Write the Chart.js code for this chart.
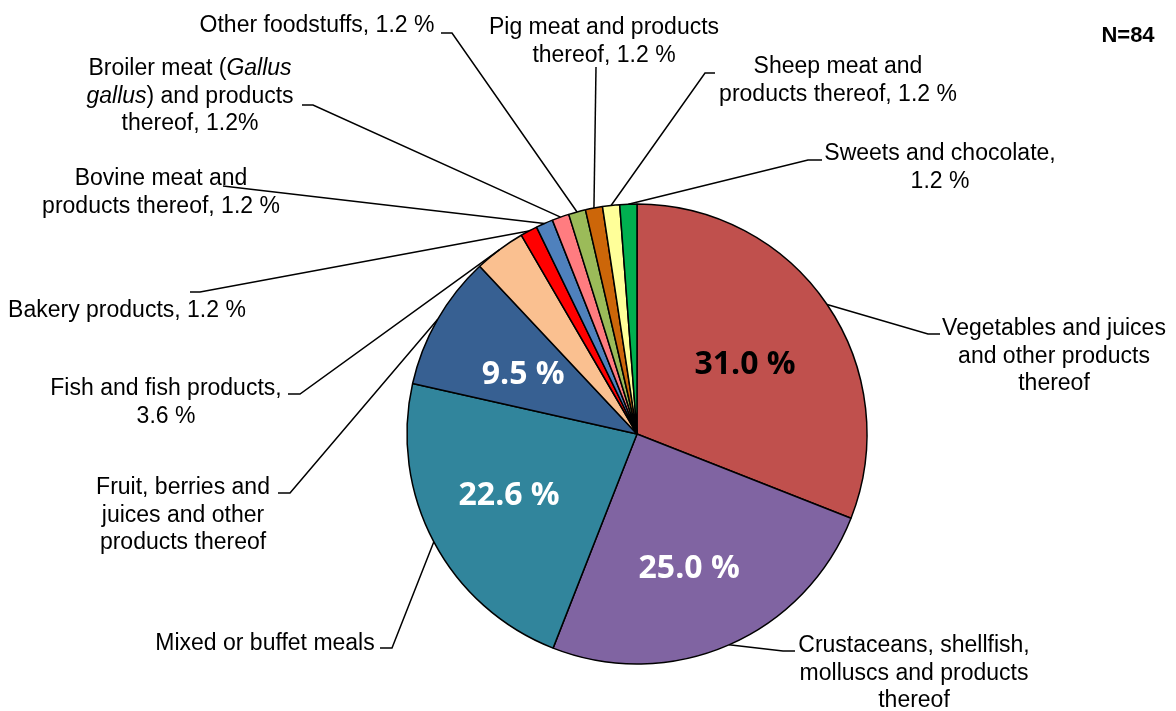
<!DOCTYPE html>
<html>
<head>
<meta charset="utf-8">
<script src="https://cdn.jsdelivr.net/npm/chart.js@4.4.1/dist/chart.umd.min.js"></script>
<style>
  html, body { margin: 0; padding: 0; background: #fff; }
</style>
</head>
<body>
<canvas id="chart" width="1176" height="711"></canvas>
<script>
// food vehicles, N=84
var categories = [
    'Vegetables and juices and other products thereof',
    'Crustaceans, shellfish, molluscs and products thereof',
    'Mixed or buffet meals',
    'Fruit, berries and juices and other products thereof',
    'Fish and fish products',
    'Bakery products',
    'Bovine meat and products thereof',
    'Broiler meat (Gallus gallus) and products thereof',
    'Other foodstuffs',
    'Pig meat and products thereof',
    'Sheep meat and products thereof',
    'Sweets and chocolate'
];
var shares = [31.0, 25.0, 22.6, 9.5, 3.6, 1.2, 1.2, 1.2, 1.2, 1.2, 1.2, 1.2];
var colours = ['#C0504D', '#8064A2', '#31859C', '#376092', '#FAC090', '#FF0000',
               '#4F81BD', '#FF7C80', '#9BBB59', '#CC6609', '#FFFF99', '#00B050'];
var insideLabels = ['31.0 %', '25.0 %', '22.6 %', '9.5 %', '', '', '', '', '', '', '', ''];
var insideColours = ['#000', '#fff', '#fff', '#fff'];
// outside label text, one entry per line; [text, italic] pieces for mixed styles
var outsideLabels = [
    ['Vegetables and juices', 'and other products', 'thereof'],
    ['Crustaceans, shellfish,', 'molluscs and products', 'thereof'],
    ['Mixed or buffet meals'],
    ['Fruit, berries and', 'juices and other', 'products thereof'],
    ['Fish and fish products,', '3.6 %'],
    ['Bakery products, 1.2 %'],
    ['Bovine meat and', 'products thereof, 1.2 %'],
    [[['Broiler meat (', false], ['Gallus', true]], [['gallus', true], [') and products', false]], 'thereof, 1.2%'],
    ['Other foodstuffs, 1.2 %'],
    ['Pig meat and products', 'thereof, 1.2 %'],
    ['Sheep meat and', 'products thereof, 1.2 %'],
    ['Sweets and chocolate,', '1.2 %']
];
var sampleSize = 'N=84';

// where each outside label sits: centre x, first baseline, leader elbow and end
var labelPlace = [
    {x: 1054, y: 335, elbow: [928, 334], end: [940, 334]},
    {x: 914, y: 652, elbow: [783, 651], end: [795, 651]},
    {x: 265, y: 650, elbow: [392, 648], end: [380, 648]},
    {x: 183, y: 494, elbow: [290, 493], end: [278, 493]},
    {x: 166, y: 395, elbow: [300, 394], end: [288, 394]},
    {x: 127, y: 317, elbow: [200, 292], end: [190, 292]},
    {x: 161, y: 185, elbow: [223, 186], end: [223, 186]},
    {x: 190, y: 75, elbow: [313, 105], end: [302, 105]},
    {x: 317, y: 32, elbow: [452, 33], end: [441, 33]},
    {x: 604, y: 34, elbow: [596, 67], end: [596, 67]},
    {x: 838, y: 73, elbow: [705, 73], end: [715, 73]},
    {x: 940, y: 160, elbow: [808, 160], end: [822, 160]}
];
// small nudges of the inside value labels
var insideNudge = [[-6, 9], [-3, 8], [-6, -3], [6, 9]];

var LABEL_FONT = '"Liberation Sans", Arial, sans-serif';
var LINE_H = 27.5;

function lineParts(line) {
    return typeof line === 'string' ? [[line, false]] : line;
}

var pieLabels = {
    id: 'pieLabels',
    afterDraw: function (chart) {
        var ctx = chart.ctx;
        var meta = chart.getDatasetMeta(0);
        ctx.save();

        // leader lines
        ctx.strokeStyle = '#000';
        ctx.lineWidth = 1.5;
        meta.data.forEach(function (arc, i) {
            var p = labelPlace[i];
            var mid = (arc.startAngle + arc.endAngle) / 2;
            var sx = arc.x + Math.cos(mid) * arc.outerRadius;
            var sy = arc.y + Math.sin(mid) * arc.outerRadius;
            ctx.beginPath();
            ctx.moveTo(sx, sy);
            ctx.lineTo(p.elbow[0], p.elbow[1]);
            ctx.lineTo(p.end[0], p.end[1]);
            ctx.stroke();
        });

        // outside labels
        ctx.fillStyle = '#000';
        ctx.textBaseline = 'alphabetic';
        ctx.textAlign = 'left';
        outsideLabels.forEach(function (lines, i) {
            var p = labelPlace[i];
            lines.forEach(function (line, k) {
                var parts = lineParts(line);
                var w = 0;
                parts.forEach(function (pt) {
                    ctx.font = (pt[1] ? 'italic ' : '') + '23px ' + LABEL_FONT;
                    w += ctx.measureText(pt[0]).width;
                });
                var x = p.x - w / 2;
                parts.forEach(function (pt) {
                    ctx.font = (pt[1] ? 'italic ' : '') + '23px ' + LABEL_FONT;
                    ctx.fillText(pt[0], x, p.y + k * LINE_H);
                    x += ctx.measureText(pt[0]).width;
                });
            });
        });

        // value labels inside the big slices
        ctx.textAlign = 'center';
        ctx.textBaseline = 'middle';
        ctx.font = 'bold 32px "Open Sans", sans-serif';
        meta.data.forEach(function (arc, i) {
            if (!insideLabels[i]) return;
            var mid = (arc.startAngle + arc.endAngle) / 2;
            var r = arc.outerRadius * 0.6;
            var n = insideNudge[i] || [0, 0];
            ctx.fillStyle = insideColours[i];
            ctx.fillText(insideLabels[i], arc.x + Math.cos(mid) * r + n[0], arc.y + Math.sin(mid) * r + n[1]);
        });

        // sample size
        ctx.fillStyle = '#000';
        ctx.textBaseline = 'alphabetic';
        ctx.font = 'bold 22px ' + LABEL_FONT;
        ctx.fillText(sampleSize, 1128, 42);
        ctx.restore();
    }
};

var ctx = document.getElementById('chart').getContext('2d');
var chart = new Chart(ctx, {
    type: 'pie',
    data: {
        labels: categories,
        datasets: [{
            data: shares,
            backgroundColor: colours,
            borderColor: '#000',
            borderWidth: 1.5,
            hoverOffset: 0
        }]
    },
    options: {
        responsive: false,
        animation: false,
        radius: 230,
        layout: {
            padding: {top: 200, bottom: 43, left: 100, right: 2}
        },
        plugins: {
            legend: {display: false},
            tooltip: {enabled: false}
        }
    },
    plugins: [pieLabels]
});
</script>
</body>
</html>
